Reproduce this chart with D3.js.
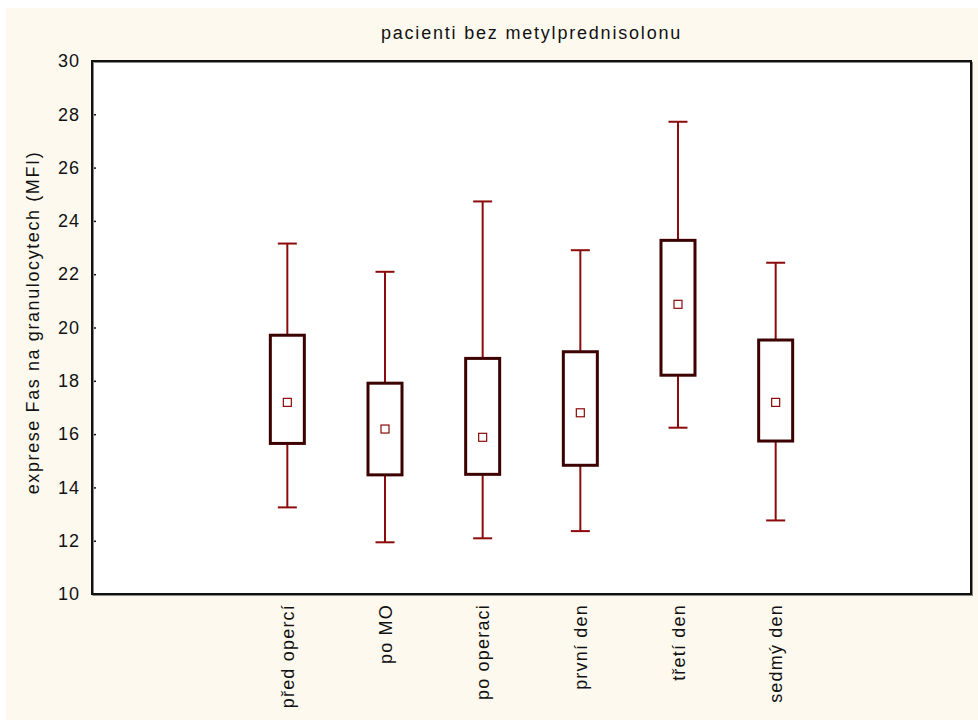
<!DOCTYPE html>
<html>
  <head>
    <title>pacienti bez metylprednisolonu</title>
    <script src="https://d3js.org/d3.v7.min.js"></script>
    <style>
      body { margin: 0; background: #ffffff; }
      text { font-family: "Liberation Sans", Arial, sans-serif; fill: #111; }
      .axis .domain { display: none; }
      .axis .tick line { stroke: #111; stroke-width: 1.5px; }
    </style>
  </head>
  <body>
    <svg width="978" height="720"></svg>
    <script>
      // values
      const categories = ["před opercí", "po MO", "po operaci", "první den", "třetí den", "sedmý den"];
      const whiskerLow  = [13.25, 11.94, 12.09, 12.36, 16.24, 12.76];
      const boxLow      = [15.65, 14.47, 14.49, 14.83, 18.21, 15.74];
      const centers     = [17.19, 16.19, 15.88, 16.80, 20.87, 17.19];
      const boxHigh     = [19.71, 17.91, 18.84, 19.09, 23.27, 19.53];
      const whiskerHigh = [23.15, 22.09, 24.73, 22.90, 27.72, 22.43];
      const yTicks = [10, 12, 14, 16, 18, 20, 22, 24, 26, 28, 30];

      const title = "pacienti bez metylprednisolonu";
      const yLabel = "exprese Fas na granulocytech (MFI)";

      const margin = {top: 61, right: 7, bottom: 126, left: 92};
      const svg = d3.select("svg");
      const width = +svg.attr("width");
      const height = +svg.attr("height");
      const innerWidth = width - margin.left - margin.right;
      const innerHeight = height - margin.top - margin.bottom;

      const data = categories.map((c, i) => ({
        name: c,
        wLo: whiskerLow[i], lo: boxLow[i], mid: centers[i],
        hi: boxHigh[i], wHi: whiskerHigh[i]
      }));

      const xScale = d3.scalePoint()
        .domain(categories)
        .range([0, innerWidth])
        .padding(2);
      const yScale = d3.scaleLinear()
        .domain([10, 30])
        .range([innerHeight, 0]);

      // cream background
      svg.append("rect")
        .attr("x", 6).attr("y", 8)
        .attr("width", width - 6).attr("height", height - 8)
        .attr("fill", "#fdf9ef");

      const g = svg.append("g")
          .attr("transform", `translate(${margin.left}, ${margin.top})`);

      g.append("rect")
        .attr("width", innerWidth)
        .attr("height", innerHeight)
        .attr("fill", "#ffffff");

      const yAxis = d3.axisLeft(yScale)
        .tickValues(yTicks)
        .tickSizeInner(-4)
        .tickSizeOuter(0)
        .tickPadding(12);
      const yAxisG = g.append("g")
          .attr("class", "axis")
          .call(yAxis);
      yAxisG.selectAll(".tick text")
          .attr("font-family", null)
          .style("font-size", "18px")
          .style("letter-spacing", "1px");

      const xAxisG = g.append("g")
          .attr("class", "axis")
          .attr("transform", `translate(0, ${innerHeight})`)
          .call(d3.axisBottom(xScale).tickSize(0).tickPadding(0));
      xAxisG.selectAll(".tick text")
          .attr("transform", "rotate(-90)")
          .attr("text-anchor", "end")
          .attr("x", -10)
          .attr("y", 0)
          .attr("dy", "0.35em")
          .style("font-size", "18px")
          .style("letter-spacing", "1.2px");

      // frame with slight shadow
      g.append("rect")
        .attr("x", 1.5).attr("y", 1.5)
        .attr("width", innerWidth).attr("height", innerHeight)
        .attr("fill", "none")
        .attr("stroke", "#888")
        .attr("stroke-width", 1);
      g.append("rect")
        .attr("width", innerWidth).attr("height", innerHeight)
        .attr("fill", "none")
        .attr("stroke", "#111")
        .attr("stroke-width", 2);

      const boxW = 34;
      const capW = 19;
      const markSize = 8;

      const groups = g.selectAll(".box").data(data)
        .enter().append("g")
          .attr("class", "box")
          .attr("transform", d => `translate(${xScale(d.name)}, 0)`);

      // whiskers
      groups.append("line")
        .attr("x1", 0).attr("x2", 0)
        .attr("y1", d => yScale(d.wHi))
        .attr("y2", d => yScale(d.hi))
        .attr("stroke", "#8b0a0a").attr("stroke-width", 2);
      groups.append("line")
        .attr("x1", 0).attr("x2", 0)
        .attr("y1", d => yScale(d.lo))
        .attr("y2", d => yScale(d.wLo))
        .attr("stroke", "#8b0a0a").attr("stroke-width", 2);
      groups.append("line")
        .attr("x1", -capW / 2).attr("x2", capW / 2)
        .attr("y1", d => yScale(d.wHi)).attr("y2", d => yScale(d.wHi))
        .attr("stroke", "#8b0a0a").attr("stroke-width", 2);
      groups.append("line")
        .attr("x1", -capW / 2).attr("x2", capW / 2)
        .attr("y1", d => yScale(d.wLo)).attr("y2", d => yScale(d.wLo))
        .attr("stroke", "#8b0a0a").attr("stroke-width", 2);

      // boxes
      groups.append("rect")
        .attr("x", -boxW / 2)
        .attr("width", boxW)
        .attr("y", d => yScale(d.hi))
        .attr("height", d => yScale(d.lo) - yScale(d.hi))
        .attr("fill", "#ffffff")
        .attr("stroke", "#3d0000")
        .attr("stroke-width", 3);

      // centre markers
      groups.append("rect")
        .attr("x", -markSize / 2)
        .attr("y", d => yScale(d.mid) - markSize / 2)
        .attr("width", markSize)
        .attr("height", markSize)
        .attr("fill", "#ffffff")
        .attr("stroke", "#8b0a0a")
        .attr("stroke-width", 1.2);

      svg.append("text")
        .attr("x", margin.left + innerWidth / 2)
        .attr("y", 39)
        .attr("text-anchor", "middle")
        .style("font-size", "18px")
        .style("letter-spacing", "1.8px")
        .text(title);

      svg.append("text")
        .attr("transform", "rotate(-90)")
        .attr("x", -(margin.top + innerHeight / 2) + 5)
        .attr("y", 39)
        .attr("text-anchor", "middle")
        .style("font-size", "18px")
        .style("letter-spacing", "1.6px")
        .text(yLabel);
    </script>
  </body>
</html>
